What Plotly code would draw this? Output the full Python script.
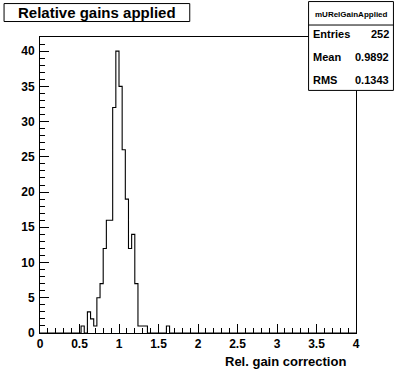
import plotly.graph_objects as go

# ---- data ----
bin_edges = [round(0.52 + 0.04 * i, 2) for i in range(29)]  # 0.52 .. 1.64
counts = [1, 0, 3, 2, 1, 5, 7, 12, 16, 16, 32, 40, 35, 26, 19, 12, 14, 7, 1, 1, 1, 0, 0, 0, 0, 0, 0, 1]
x_ticks = [0, 0.5, 1, 1.5, 2, 2.5, 3, 3.5, 4]
x_tick_labels = ["0", "0.5", "1", "1.5", "2", "2.5", "3", "3.5", "4"]
y_ticks = [0, 5, 10, 15, 20, 25, 30, 35, 40]
title_text = "Relative gains applied"
x_title = "Rel. gain correction"
stats_name = "mURelGainApplied"
stats_rows = [("Entries", "252"), ("Mean", "0.9892"), ("RMS", "0.1343")]

W, H = 396, 372
L, R, T, B = 39.5, 40, 37, 38.5
PW, PH = W - L - R, H - T - B

def px(x):
    return (x - L) / PW

def py(y):
    return (H - B - y) / PH

FONT = "Liberation Sans, Arial, Helvetica, sans-serif"

xs = [0] + bin_edges + [4]
ys = [0] + counts + [0, 0]

fig = go.Figure()
fig.add_trace(go.Scatter(
    x=xs, y=ys, mode="lines", line=dict(shape="hv", color="black", width=1.1),
    hoverinfo="skip", showlegend=False,
))

fig.update_layout(
    width=W, height=H,
    margin=dict(l=L, r=R, t=T, b=B, pad=0, autoexpand=False),
    paper_bgcolor="white", plot_bgcolor="white",
    showlegend=False,
    font=dict(family=FONT, color="black"),
    xaxis=dict(
        range=[0, 4], tickvals=x_ticks, ticktext=x_tick_labels,
        ticks="inside", ticklen=9, tickwidth=1, tickcolor="black",
        minor=dict(dtick=0.1, ticks="inside", ticklen=5, tickwidth=1, tickcolor="black"),
        showline=True, linecolor="black", linewidth=1, mirror=True,
        showgrid=False, zeroline=False,
        tickfont=dict(family=FONT, size=12, weight="bold"),
        fixedrange=True,
    ),
    yaxis=dict(
        range=[0, 42], tickvals=y_ticks,
        ticks="inside", ticklen=9, tickwidth=1, tickcolor="black",
        minor=dict(dtick=1, ticks="inside", ticklen=5, tickwidth=1, tickcolor="black"),
        showline=True, linecolor="black", linewidth=1, mirror=True,
        showgrid=False, zeroline=False,
        tickfont=dict(family=FONT, size=12, weight="bold"),
        ticklabelstandoff=2,
        fixedrange=True,
    ),
)

shapes = []
annotations = []

# title box
shapes.append(dict(type="rect", xref="paper", yref="paper",
                   x0=px(3.5), x1=px(189.5), y0=py(21.5), y1=py(3.5),
                   line=dict(color="black", width=1), fillcolor="white", layer="above"))
annotations.append(dict(xref="paper", yref="paper", x=px(96.5), y=py(12.5),
                        text=title_text, showarrow=False, xanchor="center", yanchor="middle",
                        font=dict(family=FONT, size=15, weight="bold")))

# stats box
shapes.append(dict(type="rect", xref="paper", yref="paper",
                   x0=px(308.5), x1=px(393.5), y0=py(90.5), y1=py(1.5),
                   line=dict(color="black", width=1), fillcolor="white", layer="above"))
shapes.append(dict(type="line", xref="paper", yref="paper",
                   x0=px(308.5), x1=px(393.5), y0=py(25), y1=py(25),
                   line=dict(color="black", width=1), layer="above"))
annotations.append(dict(xref="paper", yref="paper", x=px(351), y=py(14),
                        text=stats_name, showarrow=False, xanchor="center", yanchor="middle",
                        font=dict(family=FONT, size=8, weight="bold")))
for i, (k, v) in enumerate(stats_rows):
    yy = 33.5 + i * 23.3
    annotations.append(dict(xref="paper", yref="paper", x=px(311), y=py(yy),
                            text=k, showarrow=False, xanchor="left", yanchor="middle",
                            font=dict(family=FONT, size=11, weight="bold")))
    annotations.append(dict(xref="paper", yref="paper", x=px(391), y=py(yy),
                            text=v, showarrow=False, xanchor="right", yanchor="middle",
                            font=dict(family=FONT, size=11, weight="bold")))

# x axis title
annotations.append(dict(xref="paper", yref="paper", x=px(348), y=py(362.5),
                        text=x_title, showarrow=False, xanchor="right", yanchor="middle",
                        font=dict(family=FONT, size=13, weight="bold")))

fig.update_layout(shapes=shapes, annotations=annotations)
fig.write_html("out.html", config={"displayModeBar": False},
               post_script="document.body.style.margin='0';document.body.style.padding='0';")
